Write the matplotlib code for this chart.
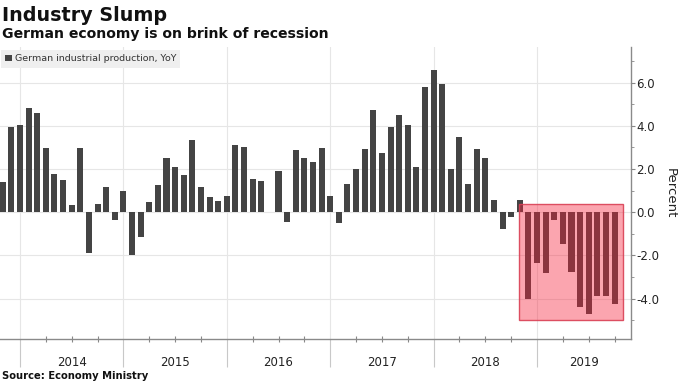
import matplotlib
matplotlib.use('Agg')
import matplotlib.pyplot as plt
import matplotlib.transforms as mtransforms
from matplotlib.patches import Rectangle
import numpy as np
import pandas as pd

# Data: German industrial production, YoY %, monthly Oct 2013 - Sep 2019
months = pd.period_range('2013-10', '2019-09', freq='M')
values = [1.39, 3.93, 4.06, 4.83, 4.58, 2.96, 1.79, 1.50, 0.32, 2.96,
          -1.91, 0.40, 1.19, -0.35, 0.97, -1.99, -1.14, 0.49, 1.27, 2.53,
          2.11, 1.71, 3.33, 1.19, 0.69, 0.51, 0.76, 3.10, 3.04, 1.53,
          1.45, 0.03, 1.90, -0.46, 2.89, 2.53, 2.31, 2.95, 0.76, -0.52,
          1.30, 1.98, 2.92, 4.72, 2.72, 3.93, 4.49, 4.03, 2.08, 5.79,
          6.57, 5.94, 1.99, 3.49, 1.30, 2.93, 2.53, 0.57, -0.76, -0.23,
          0.56, -4.03, -2.36, -2.82, -0.37, -1.47, -2.75, -4.41, -4.71, -3.89,
          -3.89, -4.27]
years = [2014, 2015, 2016, 2017, 2018, 2019]
series_label = 'German industrial production, YoY'

# highlighted recession zone (x in month index, y in percent)
box_x = (59.95, 72.0)
box_y = (-5.0, 0.38)

x = np.arange(len(months))
month_nums = np.array([m.month for m in months])
year_edges = x[month_nums == 12]          # bars sit at month end
quarter_ticks = x[month_nums % 3 == 0]

fig = plt.figure(figsize=(6.8, 3.82), dpi=100)
ax = fig.add_axes([0.0, 0.1126, 0.928, 0.7644])

bar_color = '#444444'
ax.bar(x, values, width=0.7, color=bar_color, zorder=2, label=series_label)

# translucent red overlay on top of the bars
ax.add_patch(Rectangle((box_x[0], box_y[0]), box_x[1] - box_x[0], box_y[1] - box_y[0],
                       facecolor=(0.97, 0.12, 0.22, 0.4), edgecolor=(0.85, 0.25, 0.33, 0.9),
                       linewidth=1.0, zorder=3))

xmin, xmax = -0.32, 72.91
ax.set_xlim(xmin, xmax)
ax.set_ylim(-5.87, 7.65)

# y axis on the right
ax.yaxis.tick_right()
ax.set_yticks(np.arange(-4, 7, 2))
ax.set_yticks(np.arange(-5, 8, 2), minor=True)
ax.set_yticklabels([f'{v:.1f}' for v in np.arange(-4, 7, 2)])
ax.tick_params(axis='y', which='both', direction='out', color='#888888',
               labelsize=8.5, labelcolor='#222222', pad=1)
ax.tick_params(axis='y', which='major', length=3)
ax.tick_params(axis='y', which='minor', length=2)

# x axis: year separators and quarter ticks
ax.set_xticks(year_edges)
ax.set_xticks(quarter_ticks, minor=True)
ax.tick_params(axis='x', which='major', direction='out', length=20, color='#c8c8c8',
               width=0.8, labelbottom=False)
ax.tick_params(axis='x', which='minor', direction='inout', length=4, color='#888888',
               width=0.8)

ax.grid(axis='x', which='major', color='#e6e6e6', linewidth=0.8, zorder=0)
ax.grid(axis='y', which='major', color='#e6e6e6', linewidth=0.8, zorder=0)
ax.set_axisbelow(True)

for side in ['left', 'top']:
    ax.spines[side].set_visible(False)
for side in ['right', 'bottom']:
    ax.spines[side].set_color('#8a8a8a')
    ax.spines[side].set_linewidth(1.0)

trans = mtransforms.blended_transform_factory(ax.transData, ax.transAxes)
for yr, edge in zip(years, year_edges):
    center = (edge + min(edge + 12, xmax)) / 2
    ax.text(center, -0.08, str(yr), transform=trans, ha='center', va='center',
            fontsize=8.5, color='#222222')

fig.text(670 / 680, 1 - 193 / 382, 'Percent', rotation=270, ha='center', va='center',
         fontsize=9.5, color='#222222')

leg = ax.legend(loc='upper left', bbox_to_anchor=(1 / 680, 1 - 50 / 382),
                bbox_transform=fig.transFigure, borderaxespad=0, fontsize=6.8,
                frameon=True, fancybox=False, facecolor='#efefef', edgecolor='none',
                framealpha=1, handlelength=0.7, handleheight=0.7, handletextpad=0.3,
                borderpad=0.45)
for t in leg.get_texts():
    t.set_color('#333333')

fig.text(0.003, 1 - 21 / 382, 'Industry Slump', fontsize=13.8, fontweight='bold',
         ha='left', va='baseline', color='#111111')
fig.text(0.003, 1 - 38 / 382, 'German economy is on brink of recession', fontsize=10.1,
         fontweight='bold', ha='left', va='baseline', color='#111111')
fig.text(0.003, 3 / 382, 'Source: Economy Ministry', fontsize=7.2, fontweight='bold',
         ha='left', va='baseline', color='#111111')

fig.savefig('out.png', dpi=100)
